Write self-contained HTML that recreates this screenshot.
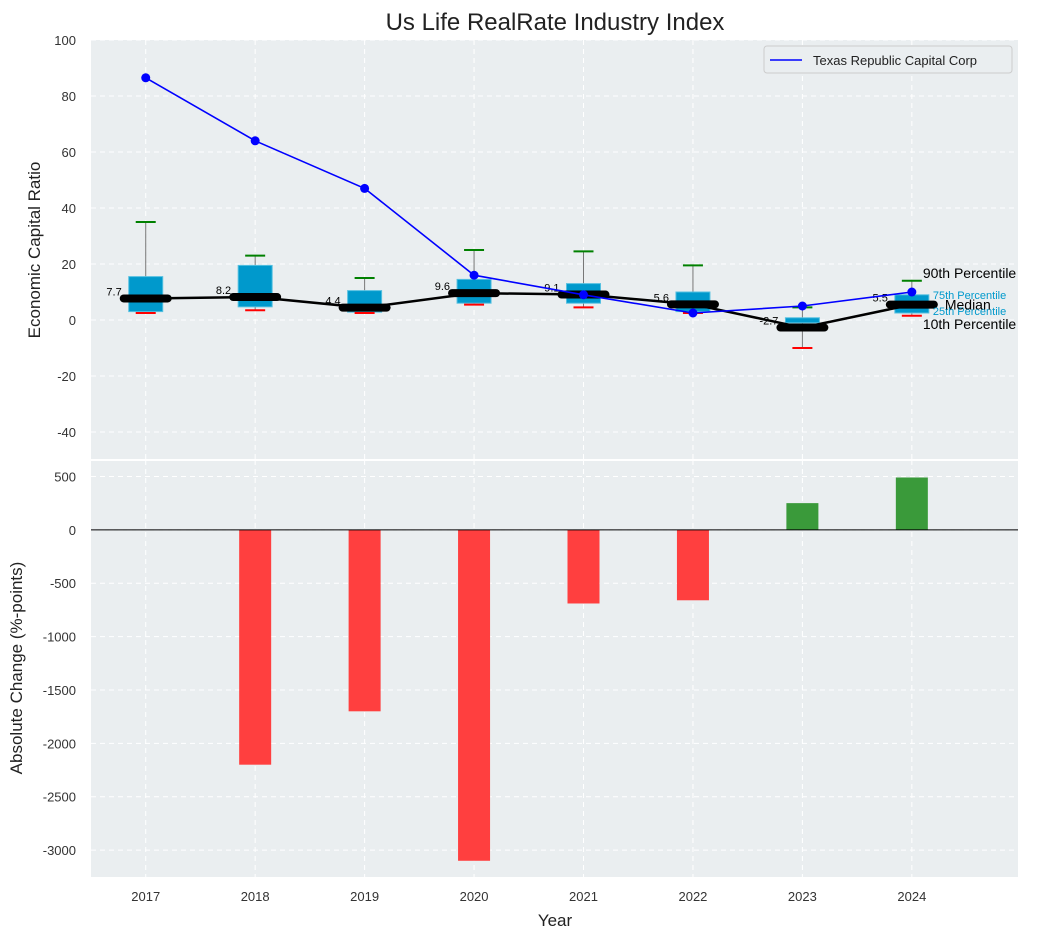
<!DOCTYPE html>
<html><head><meta charset="utf-8"><style>
body{margin:0;background:#fff;font-family:"Liberation Sans",sans-serif}
svg text{font-family:"Liberation Sans",sans-serif}
</style></head><body>
<svg id="c" width="1043" height="940"></svg>
<script>
const years=[2017,2018,2019,2020,2021,2022,2023,2024];
const companyRatio=[86.5,64,47,16,9,2.5,5,10];
const median=[7.7,8.2,4.4,9.6,9.1,5.6,-2.7,5.5];
const q1=[3,4.7,2.8,6,6,3,-1,2.5];
const q3=[15.5,19.5,10.5,14.5,13,10,0.8,9];
const p10=[2.5,3.5,2.5,5.5,4.5,2.5,-10,1.5];
const p90=[35,23,15,25,24.5,19.5,4.5,14];
const absChange=[0,-2200,-1700,-3100,-690,-660,250,490];
const topTicks=[-40,-20,0,20,40,60,80,100];
const botTicks=[-3000,-2500,-2000,-1500,-1000,-500,0,500];

const NS="http://www.w3.org/2000/svg";
const svg=document.getElementById('c');
function el(t,a,p){const e=document.createElementNS(NS,t);for(const k in a)e.setAttribute(k,a[k]);(p||svg).appendChild(e);return e;}
const L=91,R=1018;
const x=v=>L+(v-2016.5)/(2024.97-2016.5)*(R-L);
const T0=40,T1=460,B0=460,B1=877;
const yT=v=>T0+(100-v)/150*(T1-T0);
const yB=v=>B0+(654-v)/(654+3252)*(B1-B0);

let e;
e=el('rect',{x:L,y:T0,width:R-L,height:T1-T0,fill:'#eaeef0'});

e=el('rect',{x:L,y:B0+1,width:R-L,height:B1-B0-1,fill:'#eaeef0'});

el('line',{x1:L,x2:R,y1:T1,y2:T1,stroke:'#fff','stroke-width':2});
years.forEach(yr=>{
 el('line',{x1:x(yr),x2:x(yr),y1:T0,y2:T1,stroke:'#fff','stroke-dasharray':'5,4'});
 el('line',{x1:x(yr),x2:x(yr),y1:B0,y2:B1,stroke:'#fff','stroke-dasharray':'5,4'});
 e=el('text',{x:x(yr),y:901,'text-anchor':'middle','font-size':13,fill:'#333'});e.textContent=yr;
 
});
topTicks.forEach(v=>{
 el('line',{x1:L,x2:R,y1:yT(v),y2:yT(v),stroke:'#fff','stroke-dasharray':'5,4'});
 e=el('text',{x:76,y:yT(v)+5,'text-anchor':'end','font-size':13,fill:'#333'});e.textContent=v;
 
});
botTicks.forEach(v=>{
 el('line',{x1:L,x2:R,y1:yB(v),y2:yB(v),stroke:'#fff','stroke-dasharray':'5,4'});
 e=el('text',{x:76,y:yB(v)+5,'text-anchor':'end','font-size':13,fill:'#333'});e.textContent=v;
 
});
years.forEach((yr,i)=>{
 const cx=x(yr);
 el('line',{x1:cx,x2:cx,y1:yT(p90[i]),y2:yT(p10[i]),stroke:'#777','stroke-width':1});
 e=el('rect',{x:cx-17,y:yT(q3[i]),width:34,height:yT(q1[i])-yT(q3[i]),fill:'#0099cc',stroke:'#55c0e0','stroke-width':1});
 
 el('line',{x1:cx-10,x2:cx+10,y1:yT(p90[i]),y2:yT(p90[i]),stroke:'green','stroke-width':2});
 el('line',{x1:cx-10,x2:cx+10,y1:yT(p10[i]),y2:yT(p10[i]),stroke:'red','stroke-width':2});
 el('line',{x1:cx-22,x2:cx+22,y1:yT(median[i]),y2:yT(median[i]),stroke:'#000','stroke-width':8,'stroke-linecap':'round'});
 e=el('text',{x:cx-24,y:yT(median[i])-3,'text-anchor':'end','font-size':11,fill:'#000'});e.textContent=median[i];
 
});
e=el('polyline',{points:years.map((yr,i)=>x(yr)+','+yT(median[i])).join(' '),fill:'none',stroke:'#000','stroke-width':2.5});

e=el('polyline',{points:years.map((yr,i)=>x(yr)+','+yT(companyRatio[i])).join(' '),fill:'none',stroke:'blue','stroke-width':1.6});

years.forEach((yr,i)=>{e=el('circle',{cx:x(yr),cy:yT(companyRatio[i]),r:4.5,fill:'blue'});
 });
const lx=x(2024)+11,li=7;
[[p90[li],'90th Percentile','#000',14,-3,0],[p10[li],'10th Percentile','#000',14,13,0],[q3[li],'75th Percentile','#0099cc',11,4,10],[q1[li],'25th Percentile','#0099cc',11,2,10],[median[li],'Median','#000',14,5,22]].forEach(a=>{
 e=el('text',{x:lx+a[5],y:yT(a[0])+a[4],'font-size':a[3],fill:a[2]});e.textContent=a[1];
 
});
years.forEach((yr,i)=>{
 if(absChange[i]===0)return;
 const y0=yB(0),y1=yB(absChange[i]);
 e=el('rect',{x:x(yr)-16,y:Math.min(y0,y1),width:32,height:Math.abs(y1-y0),fill:absChange[i]<0?'#ff3f3f':'#3a9a3a'});
 
});
el('line',{x1:L,x2:R,y1:yB(0),y2:yB(0),stroke:'#000','stroke-width':1});
const lg=el('g',{});
el('rect',{x:764,y:46,width:248,height:27,rx:3,fill:'#eaeef0',stroke:'#ccc'},lg);
el('line',{x1:770,x2:802,y1:60,y2:60,stroke:'blue','stroke-width':1.6},lg);
e=el('text',{x:813,y:65,'font-size':13,fill:'#222'},lg);e.textContent='Texas Republic Capital Corp';
e=el('text',{x:555,y:30,'text-anchor':'middle','font-size':24,fill:'#222'});e.textContent='Us Life RealRate Industry Index';

e=el('text',{x:555,y:926,'text-anchor':'middle','font-size':17,fill:'#222'});e.textContent='Year';

e=el('text',{x:40,y:250,'text-anchor':'middle','font-size':17,fill:'#222',transform:'rotate(-90 40 250)'});e.textContent='Economic Capital Ratio';

e=el('text',{x:22,y:668,'text-anchor':'middle','font-size':17,fill:'#222',transform:'rotate(-90 22 668)'});e.textContent='Absolute Change (%-points)';

</script>
</body></html>
